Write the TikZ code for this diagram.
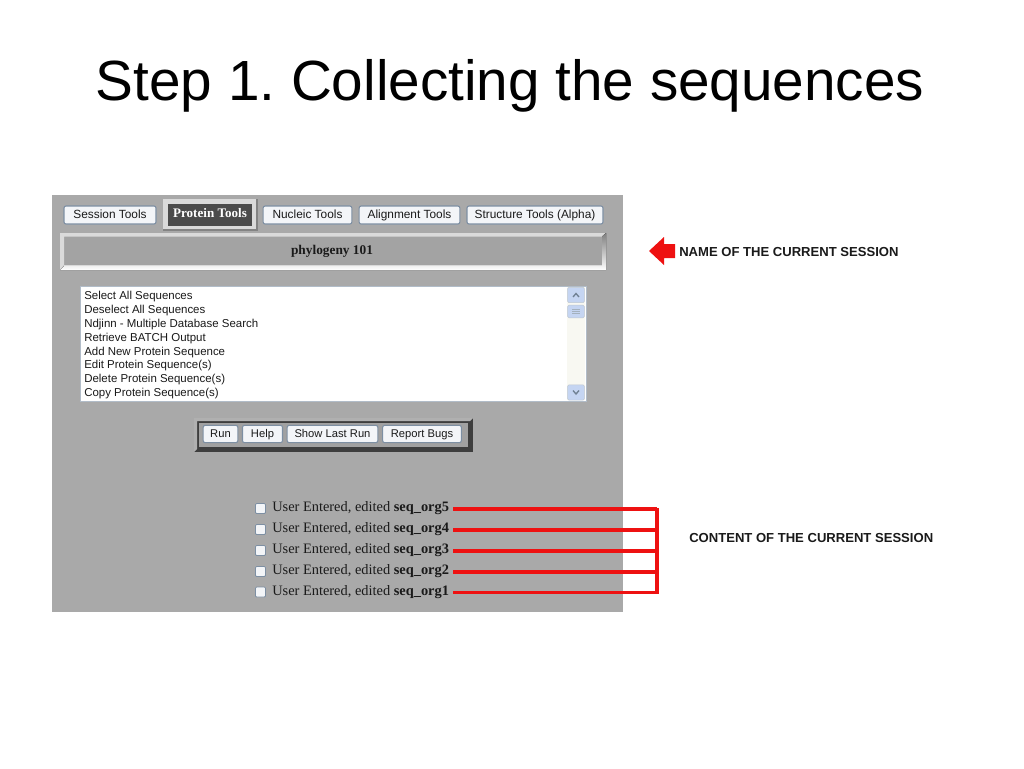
\documentclass[tikz,border=0pt]{standalone}
\usepackage{fontspec}
\setmainfont{Liberation Serif}
\newfontfamily\arialf{Liberation Sans}
\usetikzlibrary{calc}
\definecolor{panelgray}{HTML}{A9A9A9}
\definecolor{bargray}{HTML}{A3A3A3}
\definecolor{btnfill}{HTML}{F3F5F8}
\definecolor{btnedge}{HTML}{7D8FA3}
\definecolor{darkbtn}{HTML}{4B4B4B}
\definecolor{hilite}{HTML}{DADADA}
\definecolor{shade}{HTML}{4E4E4E}
\definecolor{scrollblue}{HTML}{C5D5F2}
\definecolor{scrolltrack}{HTML}{F8F8F2}
\definecolor{txtdark}{HTML}{1A1A1A}
\definecolor{redline}{HTML}{EE1111}
\tikzset{
  btn/.style={draw=btnedge, fill=btnfill, rounded corners=1.5pt, line width=0.8pt, inner sep=0pt, text height=6.3pt, text depth=1.7pt, font=\arialf\fontsize{8.4}{10}\selectfont, text=txtdark},
  tabbtn/.style={btn, font=\arialf\fontsize{8.9}{10}\selectfont},
  listitem/.style={anchor=west, inner sep=0pt, font=\arialf\fontsize{8.6}{10}\selectfont, text=txtdark},
  chk/.style={draw=btnedge, fill=btnfill, line width=0.6pt, minimum size=7.5pt, inner sep=0pt, rounded corners=0.8pt},
  seqtext/.style={anchor=west, inner sep=0pt, text height=7pt, text depth=3pt, font=\fontsize{10.8}{12}\selectfont, text=txtdark},
  conn/.style={draw=redline, line width=2.4pt},
  callout/.style={anchor=west, inner sep=0pt, text height=7pt, text depth=0pt, font=\arialf\bfseries\fontsize{9.8}{11}\selectfont, text=txtdark}
}
\begin{document}
\frenchspacing
\begin{tikzpicture}[x=0.75pt,y=-0.75pt]
\useasboundingbox (0,0) rectangle (1024,768);
\fill[white] (0,0) rectangle (1024,768);
% title
\node[anchor=base, inner sep=0pt, font=\arialf\fontsize{42.5}{46}\selectfont] (title) at (510,100.5) {Step 1. Collecting the sequences};
% panel
\fill[panelgray] (52,195) rectangle (623,612);
% tabs
\node[tabbtn, minimum width=69pt, minimum height=13.5pt] (tab1) at (110,215) {Session Tools};
\fill[hilite] (163,199) rectangle (257,230);
\draw[shade!70, line width=0.8pt] (257,199) -- (257,230) -- (163,230);
\node[fill=darkbtn, minimum width=63.5pt, minimum height=16.5pt, inner sep=0pt, text height=7pt, text depth=2pt, text=white, font=\bfseries\fontsize{9.8}{11}\selectfont] (tab2) at (210,214.5) {Protein Tools};
\node[tabbtn, minimum width=66.5pt, minimum height=13.5pt] (tab3) at (307.5,215) {Nucleic Tools};
\node[tabbtn, minimum width=75.5pt, minimum height=13.5pt] (tab4) at (409.5,215) {Alignment Tools};
\node[tabbtn, minimum width=102pt, minimum height=13.5pt] (tab5) at (535,215) {Structure Tools (Alpha)};
% session name bar
\fill[bargray] (60,233) rectangle (606,270);
\fill[hilite] (60,233) -- (606,233) -- (603,236.5) -- (64,236.5) -- (64,265) -- (60,270) -- cycle;
\fill[shade] (606,233) -- (606,270) -- (60,270) -- (64,266) -- (602,266) -- (602,236.5) -- cycle;
\draw[hilite, line width=0.7pt] (64,265.3) -- (602,265.3);
\node[inner sep=0pt, text height=7.2pt, text depth=2pt, font=\bfseries\fontsize{10}{11}\selectfont, text=txtdark] (sess) at (332,251.5) {phylogeny 101};
% list box
\fill[white] (80,286) rectangle (586,401);
\draw[btnedge!60, line width=0.6pt] (80,286) rectangle (586,401);
\node[listitem] (i1) at (84,296.5) {Select All Sequences};
\node[listitem] (i2) at (84,310.4) {Deselect All Sequences};
\node[listitem] (i3) at (84,324.3) {Ndjinn - Multiple Database Search};
\node[listitem] (i4) at (84,338.2) {Retrieve BATCH Output};
\node[listitem] (i5) at (84,352.1) {Add New Protein Sequence};
\node[listitem] (i6) at (84,366) {Edit Protein Sequence(s)};
\node[listitem] (i7) at (84,379.9) {Delete Protein Sequence(s)};
\node[listitem] (i8) at (84,393.8) {Copy Protein Sequence(s)};
% scrollbar
\fill[scrolltrack] (567,287) rectangle (585,400);
\node[fill=scrollblue, draw=btnedge!50, rounded corners=1pt, minimum width=12.5pt, minimum height=11.5pt, inner sep=0pt] (sup) at (576,295) {};
\draw[btnedge!90!black, line width=1pt] ($(sup)+(-3,2)$) -- ($(sup)+(0,-1.5)$) -- ($(sup)+(3,2)$);
\node[fill=scrollblue, draw=btnedge!50, rounded corners=1pt, minimum width=12.5pt, minimum height=9.5pt, inner sep=0pt] (sthumb) at (576,311.5) {};
\draw[btnedge!70, line width=0.5pt] ($(sthumb)+(-4,-2)$) -- ($(sthumb)+(4,-2)$) ($(sthumb)+(-4,0)$) -- ($(sthumb)+(4,0)$) ($(sthumb)+(-4,2)$) -- ($(sthumb)+(4,2)$);
\node[fill=scrollblue, draw=btnedge!50, rounded corners=1pt, minimum width=12.5pt, minimum height=11.5pt, inner sep=0pt] (sdown) at (576,392.5) {};
\draw[btnedge!90!black, line width=1pt] ($(sdown)+(-3,-2)$) -- ($(sdown)+(0,1.5)$) -- ($(sdown)+(3,-2)$);
% button bar
\fill[shade!80!black] (194,418) rectangle (473,452);
\fill[hilite!70!shade] (194,418) -- (473,418) -- (470,421) -- (197,421) -- (197,449) -- (194,452) -- cycle;
\fill[panelgray!95!black] (199,423) rectangle (468,447);
\node[btn, minimum width=26pt, minimum height=13pt] (brun) at (220.5,434) {Run};
\node[btn, minimum width=30pt, minimum height=13pt] (bhelp) at (262.5,434) {Help};
\node[btn, minimum width=68pt, minimum height=13pt] (bshow) at (332.5,434) {Show Last Run};
\node[btn, minimum width=59pt, minimum height=13pt] (brep) at (422,434) {Report Bugs};
% sequences
\foreach \k/\yy in {5/508.5,4/529.5,3/550.5,2/571.5,1/592} {
  \node[chk] (c\k) at (260.5,\yy) {};
  \node[seqtext] (s\k) at (272,\yy+0.5) {User Entered, edited \textbf{seq\_org\k}};
  \coordinate (l\k) at (453,\yy+0.5);
  \coordinate (r\k) at (657,\yy+0.5);
  \draw[conn] (l\k) -- (r\k);
}
\draw[conn] ($(r5)+(0,-1.2)$) -- ($(r1)+(0,1.2)$);
% callouts
\fill[redline] (649,251) -- (664,237) -- (664,244) -- (675,244) -- (675,258) -- (664,258) -- (664,265) -- cycle;
\coordinate (arrowtip) at (649,251);
\node[callout] (name) at (679,251.5) {NAME OF THE CURRENT SESSION};
\node[callout] (content) at (689,538) {CONTENT OF THE CURRENT SESSION};
\end{tikzpicture}
\end{document}
